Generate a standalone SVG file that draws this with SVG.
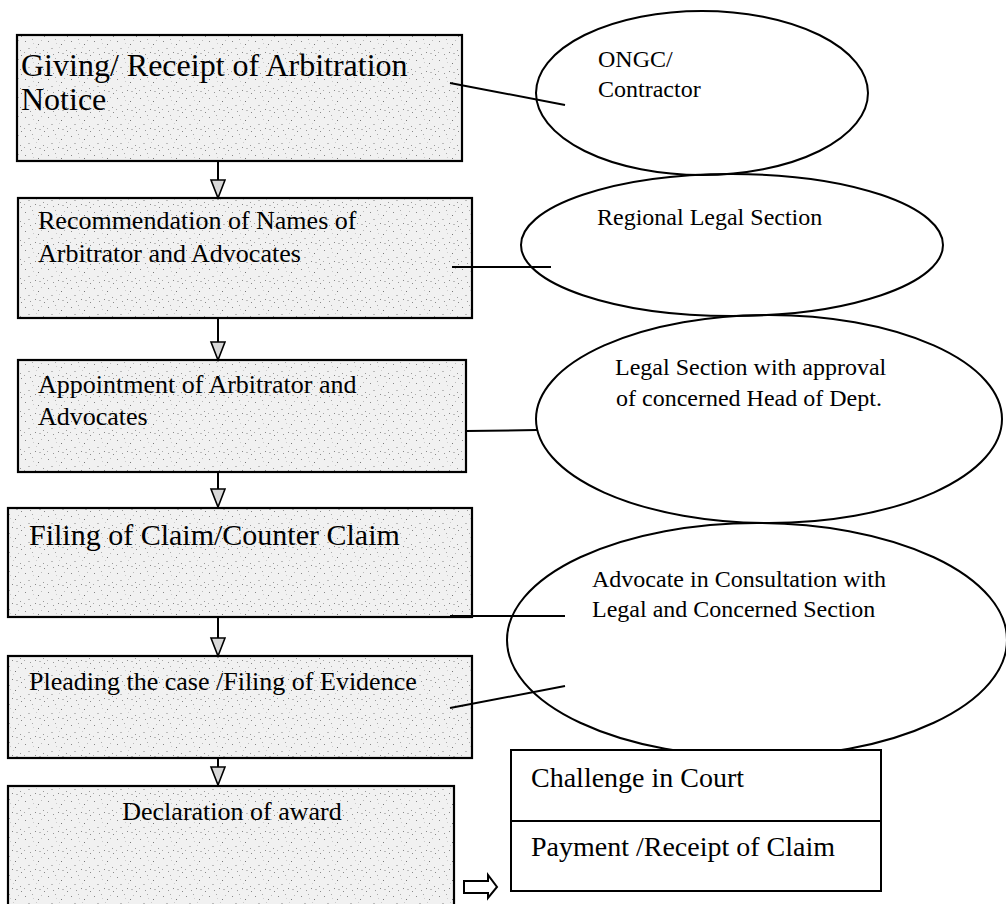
<svg xmlns="http://www.w3.org/2000/svg" width="1006" height="904" viewBox="0 0 1006 904">
  <defs>
    <pattern id="stipple" width="23" height="19" patternUnits="userSpaceOnUse">
      <rect width="23" height="19" fill="#f1f1f1"/>
      <rect x="2" y="3" width="1" height="1" fill="#888"/>
      <rect x="9" y="1" width="1" height="1" fill="#aaa"/>
      <rect x="15" y="6" width="1" height="1" fill="#777"/>
      <rect x="20" y="12" width="1" height="1" fill="#999"/>
      <rect x="5" y="10" width="2" height="1" fill="#bbb"/>
      <rect x="12" y="14" width="1" height="1" fill="#888"/>
      <rect x="18" y="2" width="1" height="1" fill="#bbb"/>
      <rect x="7" y="16" width="1" height="1" fill="#999"/>
      <rect x="13" y="9" width="1" height="1" fill="#ccc"/>
      <rect x="1" y="14" width="1" height="1" fill="#aaa"/>
      <rect x="21" y="17" width="1" height="1" fill="#888"/>
      <rect x="10" y="5" width="1" height="1" fill="#ccc"/>
      <rect x="16" y="15" width="2" height="1" fill="#bbb"/>
    </pattern>
    <marker id="tri" markerUnits="userSpaceOnUse" markerWidth="22" markerHeight="18" refX="19" refY="8" orient="auto" viewBox="0 0 22 18">
      <path d="M1,1 L19,8 L1,15 Z" fill="#d8d8d8" stroke="#000" stroke-width="1.6"/>
    </marker>
    <style>
      .box { fill: url(#stipple); stroke: #000; stroke-width: 2.2; }
      .ell { fill: none; stroke: #000; stroke-width: 2; }
      .plain { fill: #fff; stroke: #000; stroke-width: 2; }
      .t { font-family: "Liberation Serif", "Times New Roman", serif; fill: #000; }
      .conn { stroke: #000; stroke-width: 2; fill: none; }
    </style>
  </defs>
  <rect width="1006" height="904" fill="#fff"/>

  <g id="node-notice">
    <rect class="box" x="17" y="35" width="445" height="126"/>
    <text class="t" font-size="32" x="21" y="76">Giving/ Receipt of Arbitration</text>
    <text class="t" font-size="32" x="21" y="110">Notice</text>
  </g>
  <g id="node-recommend">
    <rect class="box" x="18" y="198" width="454" height="120"/>
    <text class="t" font-size="26" x="38" y="229">Recommendation of Names of</text>
    <text class="t" font-size="26" x="38" y="262">Arbitrator and Advocates</text>
  </g>
  <g id="node-appoint">
    <rect class="box" x="18" y="360" width="448" height="112"/>
    <text class="t" font-size="26" x="38" y="393">Appointment of Arbitrator and</text>
    <text class="t" font-size="26" x="38" y="425">Advocates</text>
  </g>
  <g id="node-filing">
    <rect class="box" x="8" y="508" width="464" height="109"/>
    <text class="t" font-size="30" x="29" y="545">Filing of Claim/Counter Claim</text>
  </g>
  <g id="node-pleading">
    <rect class="box" x="8" y="656" width="464" height="102"/>
    <text class="t" font-size="26" x="29" y="690">Pleading the case /Filing of Evidence</text>
  </g>
  <g id="node-award">
    <rect class="box" x="8" y="786" width="446" height="130"/>
    <text class="t" font-size="26" x="232" y="820" text-anchor="middle">Declaration of award</text>
  </g>

  <g id="node-ongc">
    <ellipse class="ell" cx="702" cy="93" rx="166" ry="82"/>
    <text class="t" font-size="24" x="598" y="67">ONGC/</text>
    <text class="t" font-size="24" x="598" y="97">Contractor</text>
  </g>
  <g id="node-regional">
    <ellipse class="ell" cx="732" cy="245" rx="211" ry="71"/>
    <text class="t" font-size="24" x="597" y="225">Regional Legal Section</text>
  </g>
  <g id="node-legal">
    <ellipse class="ell" cx="769" cy="419" rx="233" ry="104"/>
    <text class="t" font-size="24" x="615" y="375">Legal Section with approval</text>
    <text class="t" font-size="24" x="616" y="406">of concerned Head of Dept.</text>
  </g>
  <g id="node-advocate">
    <ellipse class="ell" cx="757" cy="640" rx="250" ry="117"/>
    <text class="t" font-size="24" x="592" y="587">Advocate in Consultation with</text>
    <text class="t" font-size="24" x="592" y="617">Legal and Concerned Section</text>
  </g>

  <g id="node-outcome">
    <rect class="plain" x="511" y="750" width="370" height="141"/>
    <line x1="511" y1="821" x2="881" y2="821" stroke="#000" stroke-width="2"/>
    <text class="t" font-size="28" x="531" y="787">Challenge in Court</text>
    <text class="t" font-size="28" x="531" y="856">Payment /Receipt of Claim</text>
  </g>

  <g id="connectors">
    <line class="conn" x1="218" y1="161" x2="218" y2="198" marker-end="url(#tri)"/>
    <line class="conn" x1="218" y1="318" x2="218" y2="360" marker-end="url(#tri)"/>
    <line class="conn" x1="218" y1="472" x2="218" y2="507" marker-end="url(#tri)"/>
    <line class="conn" x1="218" y1="617" x2="218" y2="656" marker-end="url(#tri)"/>
    <line class="conn" x1="218" y1="758" x2="218" y2="785" marker-end="url(#tri)"/>
    <line class="conn" x1="450" y1="83" x2="565" y2="105"/>
    <line class="conn" x1="452" y1="267" x2="551" y2="267"/>
    <line class="conn" x1="466" y1="431" x2="537" y2="430"/>
    <line class="conn" x1="450" y1="616" x2="565" y2="616"/>
    <line class="conn" x1="450" y1="708" x2="565" y2="686"/>
    <path class="plain" d="M464,881 L488,881 L488,875 L497,887 L488,898 L488,893 L464,893 Z"/>
  </g>
</svg>
